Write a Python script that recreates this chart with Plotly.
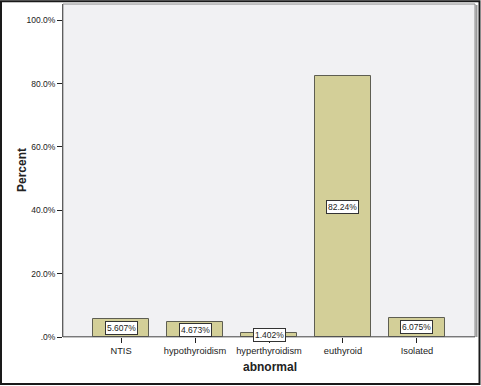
import plotly.graph_objects as go

categories = ["NTIS", "hypothyroidism", "hyperthyroidism", "euthyroid", "Isolated"]
percents = [5.607, 4.673, 1.402, 82.24, 6.075]
labels = ["5.607%", "4.673%", "1.402%", "82.24%", "6.075%"]
y_ticks = [0, 20, 40, 60, 80, 100]
y_ticklabels = [".0%", "20.0%", "40.0%", "60.0%", "80.0%", "100.0%"]

W, H = 481, 386
L, R, T, B = 63, 6, 4, 49
pw, ph = W - L - R, H - T - B

def px2x(px):
    return (px - L) / pw

def px2y(py):
    return (H - B - py) / ph

fig = go.Figure()
fig.add_trace(go.Bar(
    x=list(range(len(categories))), y=percents,
    width=0.757,
    marker=dict(color="#d3cf98", line=dict(color="#5e5e52", width=1)),
    hoverinfo="skip",
))

for i, (v, t) in enumerate(zip(percents, labels)):
    fig.add_annotation(
        x=i, y=v / 2, text=t, showarrow=False,
        xanchor="center", yanchor="middle",
        font=dict(family="Arial, Liberation Sans", size=8.5, color="#222222"),
        bgcolor="white", bordercolor="#333333", borderwidth=1, borderpad=1,
        xref="x", yref="y",
    )

# axis titles
fig.add_annotation(x=px2x(270), y=px2y(367), xref="paper", yref="paper",
                   xanchor="center", yanchor="middle",
                   text="<b>abnormal</b>", showarrow=False,
                   font=dict(family="Arial, Liberation Sans", size=12, color="#222222"))
fig.add_annotation(x=px2x(22), y=px2y(170), xref="paper", yref="paper",
                   xanchor="center", yanchor="middle",
                   text="<b>Percent</b>", showarrow=False, textangle=-90,
                   font=dict(family="Arial, Liberation Sans", size=12, color="#222222"))

# outer frame
fig.add_shape(type="rect", xref="paper", yref="paper",
              x0=px2x(1), x1=px2x(479.5), y0=px2y(384), y1=px2y(1.2),
              line=dict(color="#1a1a1a", width=2), layer="below")
# plot area border (with slight shadow on right)
fig.add_shape(type="line", xref="paper", yref="paper",
              x0=px2x(W - R + 1.5), x1=px2x(W - R + 1.5), y0=0, y1=px2y(T + 1),
              line=dict(color="#9a9a9a", width=2), layer="above")
fig.add_shape(type="rect", xref="paper", yref="paper",
              x0=0, x1=1, y0=0, y1=1,
              line=dict(color="#8a8a8a", width=1), layer="above")

fig.update_layout(
    width=W, height=H,
    margin=dict(l=L, r=R, t=T, b=B, autoexpand=False),
    paper_bgcolor="white", plot_bgcolor="#f1f1f3",
    showlegend=False, bargap=0,
    font=dict(family="Arial, Liberation Sans", size=10, color="#222222"),
    xaxis=dict(
        range=[-0.784, 4.784], automargin=False,
        tickmode="array", tickvals=list(range(len(categories))), ticktext=categories,
        ticks="outside", ticklen=5, tickcolor="#222222",
        showgrid=False, zeroline=False, showline=False,
        tickfont=dict(size=9.3),
    ),
    yaxis=dict(
        range=[0, 105.1], automargin=False,
        tickmode="array", tickvals=y_ticks, ticktext=y_ticklabels,
        ticks="outside", ticklen=5, tickcolor="#222222",
        showgrid=False, zeroline=False,
        showline=True, linecolor="#333333", linewidth=1,
        tickfont=dict(size=8.5),
    ),
)
fig.add_shape(type="line", xref="paper", yref="y", x0=0, x1=1, y0=0, y1=0,
              line=dict(color="#333333", width=1))

fig.write_html("out.html", config={"displayModeBar": False},
               post_script="document.body.style.margin='0';document.body.style.overflow='hidden';")
